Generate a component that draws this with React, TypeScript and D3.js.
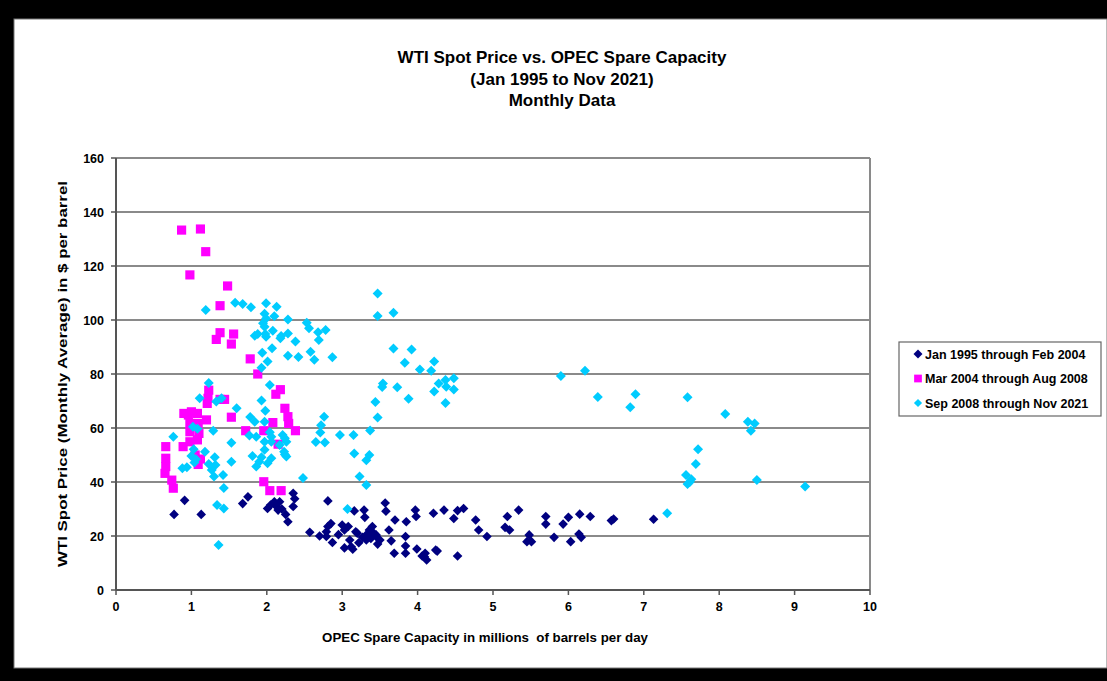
import { useRef, useEffect } from 'react'
import * as d3 from 'd3'

// [spare capacity (mb/d), WTI price ($/bbl)]
const jan1995ToFeb2004: [number, number][] = [
  [0.77, 28], [0.91, 33.2], [1.13, 28], [1.68, 32], [1.75, 34.5], [2.01, 30.2], [2.1, 32.7],
  [2.13, 30.9], [2.17, 32.7], [2.15, 29.6], [2.05, 31.5], [2.2, 30], [2.35, 35.8], [2.37, 33.8],
  [2.35, 30.9], [2.25, 28], [2.28, 25.3], [2.81, 33], [2.57, 21.4], [2.7, 20], [2.79, 21.6],
  [2.81, 23.5], [2.85, 24.6], [2.79, 19.8], [2.87, 17.6], [2.95, 20.5], [3.0, 24.1], [3.03, 22.2],
  [3.03, 15.6], [3.08, 23.5], [3.1, 18.5], [3.12, 16], [3.14, 15.1], [3.16, 29.3], [3.18, 21.6],
  [3.2, 21], [3.22, 17.5], [3.27, 19.5], [3.29, 29.6], [3.3, 26.9], [3.32, 18.5], [3.32, 20.4],
  [3.36, 22.2], [3.38, 19.1], [3.38, 21.6], [3.4, 23.5], [3.42, 21], [3.45, 19.8], [3.45, 20.4],
  [3.47, 17], [3.5, 18.5], [3.57, 32.2], [3.58, 29.2], [3.62, 22.2], [3.65, 18.2], [3.7, 25.9],
  [3.69, 13.6], [3.84, 16.3], [3.85, 25.3], [3.84, 19.8], [3.84, 13.6], [3.97, 29.6], [3.98, 27.2],
  [3.99, 15.2], [4.06, 12.6], [4.09, 12.3], [4.1, 13.6], [4.12, 11.1], [4.21, 28.4], [4.24, 14.8],
  [4.26, 14.4], [4.35, 29.6], [4.48, 26.5], [4.53, 29.4], [4.61, 30.2], [4.53, 12.6], [4.77, 25.9],
  [4.81, 22.2], [4.92, 19.8], [5.16, 23.2], [5.19, 27.2], [5.22, 22.2], [5.34, 29.6], [5.45, 17.9],
  [5.48, 20.4], [5.51, 17.9], [5.7, 27.2], [5.7, 24.4], [5.81, 19.5], [5.93, 24.4], [6.0, 26.9],
  [6.03, 17.9], [6.14, 20.7], [6.15, 28.1], [6.17, 19.5], [6.29, 27.2], [6.57, 25.7], [6.6, 26.3],
  [7.13, 26.2],
]

const mar2004ToAug2008: [number, number][] = [
  [0.87, 133.3], [1.12, 133.7], [1.19, 125.3], [0.98, 116.7], [1.48, 112.6], [1.38, 105.3],
  [1.38, 95.3], [1.33, 92.8], [1.56, 94.8], [1.53, 91.1], [1.78, 85.6], [1.88, 80], [2.18, 74.2],
  [2.12, 72.5], [2.24, 67.3], [2.28, 64.2], [2.29, 61.7], [2.38, 59], [2.08, 62], [1.96, 59],
  [1.72, 59], [2.15, 54], [1.96, 40.1], [2.04, 36.8], [2.19, 36.8], [1.53, 64], [1.23, 74],
  [1.21, 69.1], [1.38, 70.6], [1.44, 70.6], [1.2, 63], [0.9, 65.4], [0.96, 64.8], [1.08, 65.4],
  [0.98, 61.7], [1.09, 61.7], [0.98, 58.6], [1.08, 55.6], [0.98, 54.9], [1.09, 46.5], [0.89, 53.1],
  [0.66, 53.1], [0.66, 48.8], [0.66, 45.7], [0.65, 43.2], [0.74, 40.7], [0.76, 37.7], [1.22, 71],
  [1.05, 50], [1.1, 58], [1.0, 66], [1.12, 48.5],
]

const sep2008ToNov2021: [number, number][] = [
  [1.19, 103.7], [1.58, 106.4], [1.68, 105.9], [1.79, 104.7], [1.99, 106.2], [2.13, 104.9],
  [1.97, 102.3], [1.99, 100.6], [2.1, 101.4], [2.28, 100.2], [1.95, 98.8], [1.97, 97.5], [2.53, 99],
  [2.56, 96.9], [2.68, 95.5], [2.78, 96.3], [2.69, 92.6], [1.84, 94.2], [1.88, 94.8], [1.98, 94.8],
  [1.99, 93.8], [2.08, 96], [2.19, 94.1], [2.28, 95], [2.18, 93.2], [2.38, 92], [1.94, 87.9],
  [2.07, 89.5], [2.28, 86.8], [2.42, 86.3], [2.01, 84.6], [1.93, 82.3], [2.58, 88.2], [2.63, 85.3],
  [2.87, 86.2], [1.23, 76.7], [2.04, 75.9], [3.47, 109.8], [3.47, 101.5], [3.68, 102.7],
  [3.68, 89.4], [3.92, 89.1], [3.83, 84.2], [4.03, 81.7], [4.18, 81.2], [4.22, 84.6], [4.28, 76.5],
  [4.37, 77.8], [4.38, 75.3], [4.22, 73.5], [4.48, 78.4], [4.48, 74.3], [4.37, 69.3], [3.54, 76.5],
  [3.53, 75.2], [3.73, 75.1], [3.88, 70.8], [3.44, 69.6], [3.47, 63.9], [3.37, 59.1], [3.36, 50],
  [3.32, 48.1], [3.23, 42], [3.32, 38.9], [3.16, 50.6], [3.15, 57.4], [2.97, 57.4], [2.76, 64.2],
  [2.72, 61], [2.71, 58.3], [2.65, 54.8], [2.77, 54.6], [2.48, 41.5], [3.07, 30], [5.9, 79.3],
  [6.22, 81.2], [6.39, 71.5], [6.82, 67.7], [6.89, 72.5], [7.58, 71.4], [8.08, 65.2], [8.38, 62.3],
  [8.47, 61.7], [8.42, 59], [7.72, 52.1], [7.69, 46.7], [7.56, 42.6], [7.63, 41], [7.58, 39.3],
  [7.61, 40], [8.5, 40.7], [9.14, 38.3], [7.31, 28.4],
  [1.11, 71], [1.33, 69.8], [1.4, 71], [1.6, 67.3], [1.98, 66.4], [1.93, 70.2], [1.78, 64.1],
  [1.84, 62.3], [1.97, 62.3], [1.08, 59.7], [1.29, 59], [0.76, 56.8], [1.77, 57.2], [1.86, 56.8],
  [2.04, 58.4], [2.06, 56.8], [2.21, 57.4], [2.26, 54.9], [2.06, 54.9], [1.53, 54.5], [1.97, 54.9],
  [1.18, 51.2], [1.03, 52.1], [1.0, 49.6], [1.06, 48.4], [1.31, 49.2], [1.23, 46.7], [1.32, 46.3],
  [1.53, 47.5], [1.81, 49.6], [1.97, 51.9], [1.93, 49.2], [1.86, 45.7], [2.06, 48.8], [2.01, 46.9],
  [2.24, 50.2], [2.17, 53.7], [2.24, 56.2], [2.23, 51.2], [2.26, 49.4], [0.88, 45.1], [0.94, 45.5],
  [1.27, 44.4], [1.3, 42], [1.42, 42.6], [1.43, 37.8], [1.34, 31.5], [1.43, 30.2], [1.36, 16.7],
  [1.04, 47.2], [1.02, 60.5], [1.9, 47.5],
]

const seriesNames = ['Jan 1995 through Feb 2004', 'Mar 2004 through Aug 2008', 'Sep 2008 through Nov 2021']
const xTicks = [0, 1, 2, 3, 4, 5, 6, 7, 8, 9, 10]
const yTicks = [0, 20, 40, 60, 80, 100, 120, 140, 160]
const titleLines = ['WTI Spot Price vs. OPEC Spare Capacity', '(Jan 1995 to Nov 2021)', 'Monthly Data']

const W = 1107
const H = 681
const PLOT = { left: 116, right: 870, top: 158, bottom: 590 }
const FONT = '"Liberation Sans", Arial, sans-serif'

const NAVY = '#000080'
const MAGENTA = '#ff00ff'
const CYAN = '#00ccff'

export default function App() {
  const svgRef = useRef<SVGSVGElement>(null)

  useEffect(() => {
    if (!svgRef.current) return
    const svg = d3.select(svgRef.current)
    svg.selectAll('*').remove()

    // black frame + white chart area
    svg.append('rect').attr('width', W).attr('height', H).attr('fill', '#000')
    svg.append('rect').attr('x', 14).attr('y', 19).attr('width', W - 14).attr('height', 649)
      .attr('fill', '#fff').attr('stroke', '#777').attr('stroke-width', 1)

    const x = d3.scaleLinear().domain([0, 10]).range([PLOT.left, PLOT.right])
    const y = d3.scaleLinear().domain([0, 160]).range([PLOT.bottom, PLOT.top])

    // gridlines
    svg.append('g').selectAll('line').data(yTicks.filter((t) => t > 0)).enter().append('line')
      .attr('x1', PLOT.left).attr('x2', PLOT.right)
      .attr('y1', (d) => y(d)).attr('y2', (d) => y(d))
      .attr('stroke', '#8a8a8a').attr('stroke-width', 2)

    // right border of plot area
    svg.append('line').attr('x1', PLOT.right).attr('x2', PLOT.right)
      .attr('y1', PLOT.top).attr('y2', PLOT.bottom)
      .attr('stroke', '#8a8a8a').attr('stroke-width', 2)

    // axes
    const axisColor = '#555'
    svg.append('line').attr('x1', PLOT.left).attr('x2', PLOT.left)
      .attr('y1', PLOT.top).attr('y2', PLOT.bottom).attr('stroke', axisColor).attr('stroke-width', 2)
    svg.append('line').attr('x1', PLOT.left).attr('x2', PLOT.right)
      .attr('y1', PLOT.bottom).attr('y2', PLOT.bottom).attr('stroke', axisColor).attr('stroke-width', 2)

    const yAxis = svg.append('g')
    yAxis.selectAll('line').data(yTicks).enter().append('line')
      .attr('x1', PLOT.left - 5).attr('x2', PLOT.left)
      .attr('y1', (d) => y(d)).attr('y2', (d) => y(d))
      .attr('stroke', axisColor).attr('stroke-width', 1.5)
    yAxis.selectAll('text').data(yTicks).enter().append('text')
      .attr('x', PLOT.left - 12).attr('y', (d) => y(d) + 4.5)
      .attr('text-anchor', 'end').attr('font-family', FONT).attr('font-weight', 'bold')
      .attr('font-size', 12.5).text((d) => d)

    const xAxis = svg.append('g')
    xAxis.selectAll('line').data(xTicks).enter().append('line')
      .attr('x1', (d) => x(d)).attr('x2', (d) => x(d))
      .attr('y1', PLOT.bottom).attr('y2', PLOT.bottom + 5)
      .attr('stroke', axisColor).attr('stroke-width', 1.5)
    xAxis.selectAll('text').data(xTicks).enter().append('text')
      .attr('x', (d) => x(d)).attr('y', PLOT.bottom + 21)
      .attr('text-anchor', 'middle').attr('font-family', FONT).attr('font-weight', 'bold')
      .attr('font-size', 12.5).text((d) => d)

    // markers
    const diamond = (size: number) => d3.symbol().type(d3.symbolSquare).size(size)()
    const square = (size: number) => d3.symbol().type(d3.symbolSquare).size(size)()

    const drawSeries = (data: [number, number][], path: string | null, color: string, rotate: number) => {
      svg.append('g').selectAll('path').data(data).enter().append('path')
        .attr('d', path)
        .attr('transform', (d) => `translate(${x(d[0])},${y(d[1])}) rotate(${rotate})`)
        .attr('fill', color)
    }
    drawSeries(jan1995ToFeb2004, diamond(46), NAVY, 45)
    drawSeries(mar2004ToAug2008, square(84), MAGENTA, 0)
    drawSeries(sep2008ToNov2021, diamond(50), CYAN, 45)

    // titles
    svg.append('g').selectAll('text').data(titleLines).enter().append('text')
      .attr('x', 562).attr('y', (_, i) => 63 + i * 21.5)
      .attr('text-anchor', 'middle').attr('font-family', FONT).attr('font-weight', 'bold')
      .attr('font-size', 17).text((d) => d)

    // y label, stretched along its length like the source image
    svg.append('text')
      .attr('transform', `translate(67,${(PLOT.top + PLOT.bottom) / 2}) rotate(-90) scale(1.27,1)`)
      .attr('text-anchor', 'middle').attr('font-family', FONT).attr('font-weight', 'bold')
      .attr('font-size', 13.3).text('WTI Spot Price (Monthly Average) in $ per barrel')

    svg.append('text')
      .attr('x', 485).attr('y', 642)
      .attr('text-anchor', 'middle').attr('font-family', FONT).attr('font-weight', 'bold')
      .attr('font-size', 13.3)
      .style('white-space', 'pre')
      .text('OPEC Spare Capacity in millions  of barrels per day')

    // legend
    const legend = svg.append('g').attr('transform', 'translate(899,342)')
    legend.append('rect').attr('width', 202).attr('height', 74)
      .attr('fill', '#fff').attr('stroke', '#666').attr('stroke-width', 1.2)
    const legendMarks = [
      { path: diamond(40), color: NAVY, rotate: 45 },
      { path: square(60), color: MAGENTA, rotate: 0 },
      { path: diamond(34), color: CYAN, rotate: 45 },
    ]
    seriesNames.forEach((name, i) => {
      const cy = 12 + i * 24.5
      legend.append('path').attr('d', legendMarks[i].path)
        .attr('transform', `translate(19,${cy}) rotate(${legendMarks[i].rotate})`)
        .attr('fill', legendMarks[i].color)
      legend.append('text').attr('x', 26).attr('y', cy + 4.5)
        .attr('font-family', FONT).attr('font-weight', 'bold').attr('font-size', 12.5)
        .text(name)
    })
  }, [])

  return (
    <div style={{ position: 'absolute', left: 0, top: 0 }}>
      <svg ref={svgRef} width={W} height={H} style={{ display: 'block' }} />
    </div>
  )
}
